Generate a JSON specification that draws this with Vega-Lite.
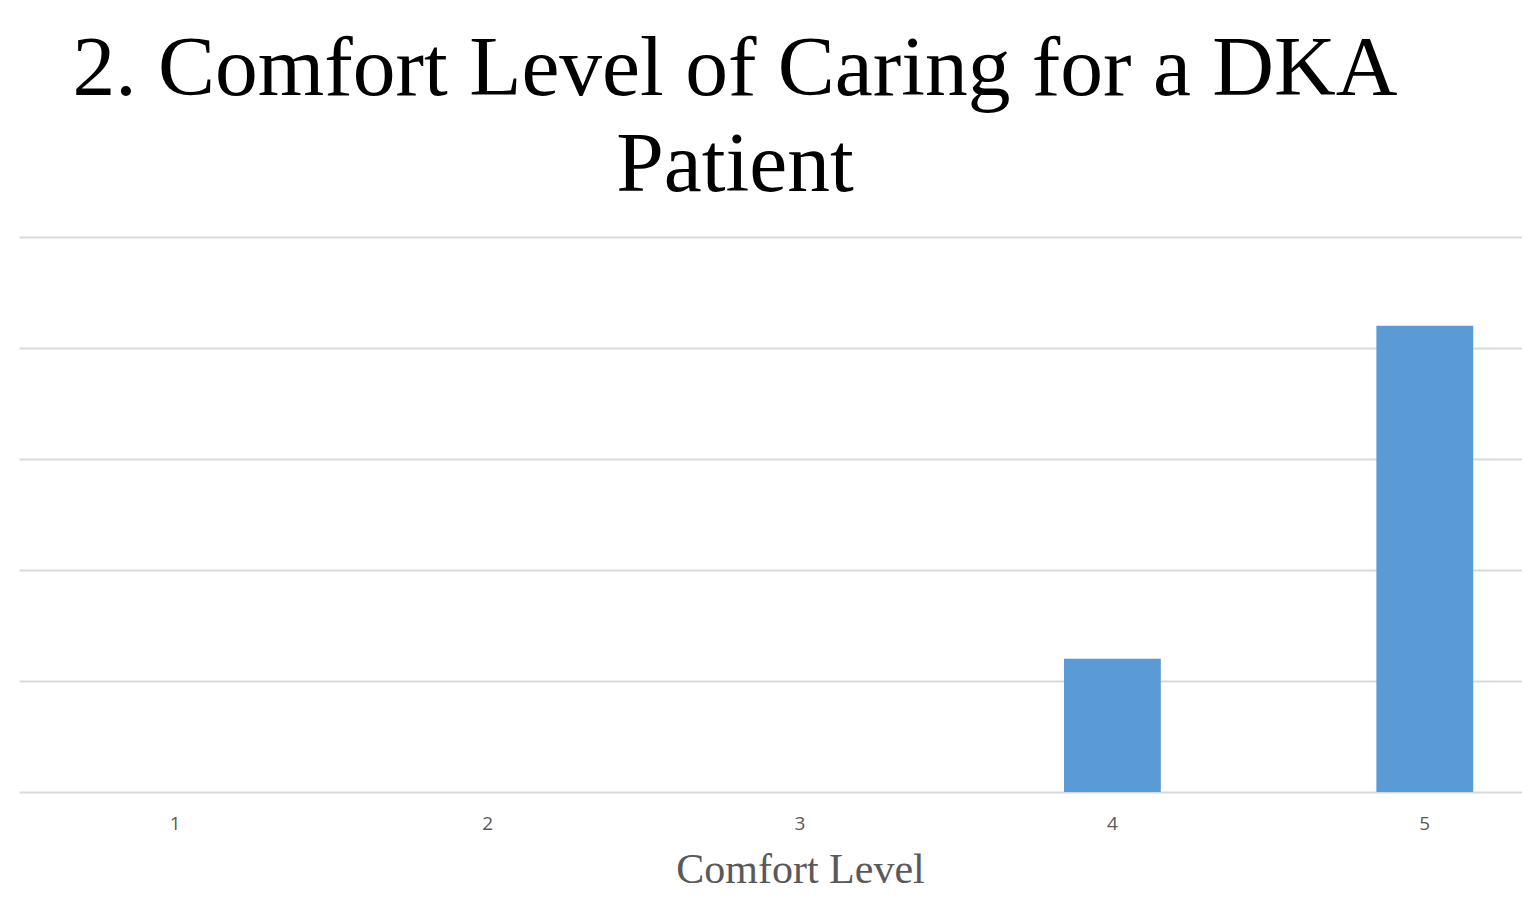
{
  "$schema": "https://vega.github.io/schema/vega-lite/v6.json",
  "autosize": {"type": "none"},
  "width": 1562,
  "height": 555,
  "padding": {"left": 19, "top": 237, "right": 0, "bottom": 110},
  "background": "white",
  "title": {
    "text": ["2. Comfort Level of Caring for a DKA", "Patient"],
    "font": "Liberation Serif",
    "fontSize": 85.5,
    "fontWeight": "normal",
    "color": "#000000",
    "lineHeight": 96,
    "anchor": "middle",
    "dx": -65,
    "offset": 29
  },
  "data": {
    "values": [
      {"level": "1", "count": 0},
      {"level": "2", "count": 0},
      {"level": "3", "count": 0},
      {"level": "4", "count": 6},
      {"level": "5", "count": 21}
    ]
  },
  "mark": {"type": "bar", "color": "#5b9bd5"},
  "encoding": {
    "x": {
      "field": "level",
      "type": "ordinal",
      "sort": ["1", "2", "3", "4", "5"],
      "scale": {"paddingInner": 0.69, "paddingOuter": 0.345},
      "axis": {
        "title": "Comfort Level",
        "titleFont": "Liberation Serif",
        "titleFontSize": 42,
        "titleFontWeight": "normal",
        "titleColor": "#595959",
        "titlePadding": 16,
        "labelFont": "Open Sans",
        "labelFontSize": 19,
        "labelColor": "#595959",
        "labelAngle": 0,
        "labelPadding": 22,
        "ticks": false,
        "domain": false,
        "grid": false
      }
    },
    "y": {
      "field": "count",
      "type": "quantitative",
      "scale": {"domain": [0, 25]},
      "axis": {
        "values": [0, 5, 10, 15, 20, 25],
        "labels": false,
        "ticks": false,
        "domain": false,
        "title": null,
        "grid": true,
        "gridColor": "#d9d9d9",
        "gridWidth": 2
      }
    }
  },
  "config": {"view": {"stroke": null}}
}
